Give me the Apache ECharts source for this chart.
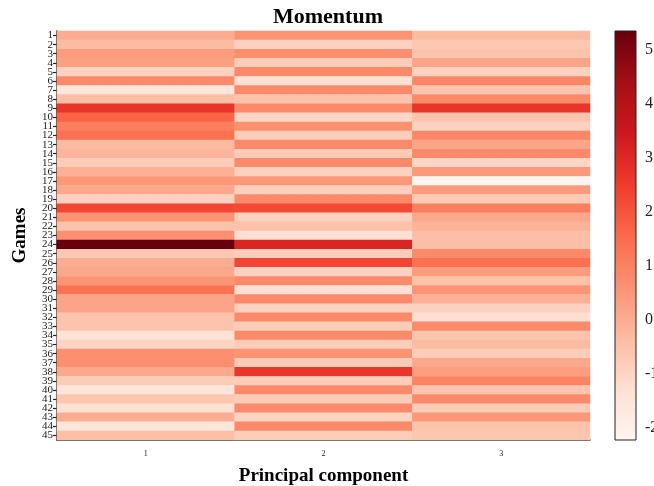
<!DOCTYPE html>
<html><head><meta charset="utf-8">
<script src="https://cdn.jsdelivr.net/npm/echarts@6/dist/echarts.min.js"></script>
<style>html,body{margin:0;padding:0;background:#fff}#c{width:654px;height:486px}</style>
</head><body><div id="c"></div>
<script>
const games = ["1","2","3","4","5","6","7","8","9","10","11","12","13","14","15","16","17","18","19","20","21","22","23","24","25","26","27","28","29","30","31","32","33","34","35","36","37","38","39","40","41","42","43","44","45"];
const components = ["1","2","3"];
const pc1 = [0.0,-0.35,0.4,0.3,-0.9,0.8,-1.5,-0.4,2.7,1.7,1.1,1.4,-0.3,-0.2,-0.8,-0.1,0.5,0.1,-0.9,2.3,0.6,-0.5,0.7,5.35,-0.65,0.0,0.1,0.55,1.35,0.2,0.2,-0.55,-0.55,-1.35,-0.95,0.7,0.7,0.1,-0.75,-1.5,-0.6,-1.3,0.0,-1.5,-0.45];
const pc2 = [0.6,-0.9,0.7,-0.8,0.8,-1.3,0.8,-0.55,0.8,-1.0,0.65,-0.8,0.8,-0.7,0.8,-0.9,0.5,-0.85,0.8,2.2,-0.9,-0.5,-1.25,3.1,-0.8,2.3,-0.9,0.8,-1.3,0.8,-0.9,0.8,-0.75,0.8,-0.8,0.6,-0.75,2.65,-0.8,0.8,-0.75,0.8,-0.95,0.8,-0.8];
const pc3 = [-0.35,-0.65,-0.55,0.2,-0.9,0.9,-0.55,0.8,2.7,-0.55,-0.9,0.9,0.2,0.8,-1.0,0.45,-2.22,0.4,-0.7,1.1,0.1,-0.15,-0.4,-0.4,0.8,1.4,0.4,-0.5,0.55,-0.1,-0.9,-1.25,0.8,-0.55,-0.35,-0.8,0.1,0.35,0.95,-0.55,0.8,-0.75,0.5,-0.55,-0.6];
const cbarTicks = [-2,-1,0,1,2,3,4,5];
const vmin = -2.22, vmax = 5.35;

const reds = ['#fff5f0','#fee0d2','#fcbba1','#fc9272','#fb6a4a','#ef3b2c','#cb181d','#a50f15','#67000d'];
const cols = [pc1, pc2, pc3];
const data = [];
cols.forEach((arr, ci) => arr.forEach((v, ri) => data.push([ci, ri, v])));

const serif = "'Liberation Serif','Times New Roman',serif";
const chart = echarts.init(document.getElementById('c'), null, {renderer:'canvas'});
chart.setOption({
  animation:false,
  backgroundColor:'#fff',
  title:{text:'Momentum', left:323, top:1, textAlign:'center',
    textStyle:{fontFamily:serif, fontWeight:'bold', fontSize:22, color:'#000'}},
  grid:[{left:57, right:64, top:31, bottom:46, outerBoundsMode:'none', containLabel:false},
        {left:615, width:21, top:31, bottom:46, outerBoundsMode:'none', containLabel:false}],
  xAxis:[{type:'category', data:components, gridIndex:0,
    axisLine:{lineStyle:{color:'#222', width:1.5}},
    axisTick:{alignWithLabel:true, length:4, lineStyle:{color:'#222', width:1.2}},
    axisLabel:{fontFamily:serif, fontSize:8, color:'#222', margin:10},
    name:'Principal component', nameLocation:'middle', nameGap:27,
    nameTextStyle:{fontFamily:serif, fontWeight:'bold', fontSize:19, color:'#000'}},
    {type:'value', gridIndex:1, min:0, max:1, show:false}],
  yAxis:[{type:'category', data:games, gridIndex:0, inverse:true,
    axisLine:{lineStyle:{color:'#222', width:1.5}},
    axisTick:{show:true, alignWithLabel:true, interval:0, length:4, lineStyle:{color:'#222', width:1.2}},
    axisLabel:{fontFamily:serif, fontSize:11, color:'#222', margin:4, interval:0, lineHeight:9},
    name:'Games', nameLocation:'middle', nameGap:27,
    nameTextStyle:{fontFamily:serif, fontWeight:'bold', fontSize:19, color:'#000'}},
    {type:'value', gridIndex:1, min:vmin, max:vmax, position:'right',
     axisLine:{show:false}, splitLine:{show:false},
     axisTick:{show:true, length:4, customValues:cbarTicks, lineStyle:{color:'#222'}},
     axisLabel:{customValues:cbarTicks, fontFamily:serif, fontSize:16, color:'#222', margin:9}}],
  visualMap:{type:'continuous', show:false, min:vmin, max:vmax, dimension:2, seriesIndex:0,
    inRange:{color:reds}},
  series:[{type:'heatmap', xAxisIndex:0, yAxisIndex:0, data:data, itemStyle:{borderWidth:0}},
    {type:'custom', xAxisIndex:1, yAxisIndex:1, data:[[0, vmin, vmax]],
     renderItem:function(params, api){
       const p0 = api.coord([0, api.value(2)]);
       const p1 = api.coord([1, api.value(1)]);
       const stops = reds.slice().reverse().map((c,i)=>({offset:i/(reds.length-1), color:c}));
       return {type:'rect', shape:{x:p0[0], y:p0[1], width:p1[0]-p0[0], height:p1[1]-p0[1]},
         style:{fill:new echarts.graphic.LinearGradient(0,0,0,1,stops), stroke:'#222', lineWidth:1}};
     }}]
});
</script></body></html>
